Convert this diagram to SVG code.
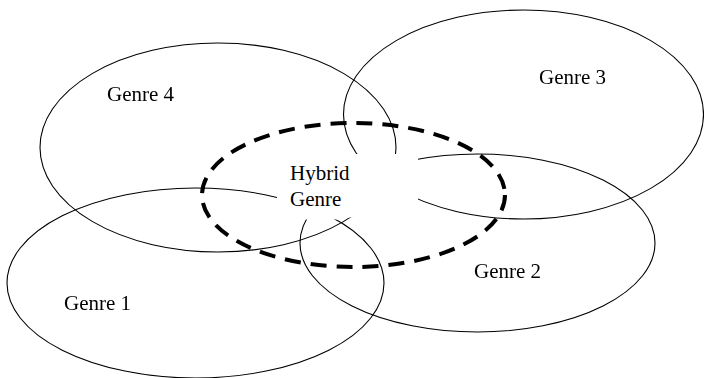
<svg xmlns="http://www.w3.org/2000/svg" width="704" height="378" viewBox="0 0 704 378">
<style>
.g{fill:none;stroke:#000;stroke-width:1.1}
.h{fill:none;stroke:#000;stroke-width:4;stroke-dasharray:16 10}
text{font-family:"Liberation Serif","Times New Roman",serif;font-size:21px;fill:#000}
</style>
<defs>
<mask id="cut" maskUnits="userSpaceOnUse" x="0" y="0" width="704" height="378">
<rect x="0" y="0" width="704" height="378" fill="#fff"/>
<polygon points="277,190 345,154 418,154 418,202 341,219.5 290,219.5 277,205" fill="#000"/>
</mask>
</defs>
<g mask="url(#cut)">
<g id="genre4"><ellipse class="g" cx="218" cy="147.5" rx="178" ry="104.5"/><text x="107" y="101">Genre 4</text></g>
<g id="genre3"><ellipse class="g" cx="523.5" cy="114.5" rx="180" ry="104.5"/><text x="539" y="84">Genre 3</text></g>
<g id="genre1"><ellipse class="g" cx="195.5" cy="283" rx="188.5" ry="95"/><text x="64" y="310">Genre 1</text></g>
<g id="genre2"><ellipse class="g" cx="477.5" cy="243" rx="177.5" ry="89"/><text x="474" y="278">Genre 2</text></g>
</g>
<g id="hybrid"><ellipse class="h" cx="353.5" cy="195" rx="151.5" ry="72"/><text x="290" y="180">Hybrid</text><text x="290" y="206">Genre</text></g>
</svg>
